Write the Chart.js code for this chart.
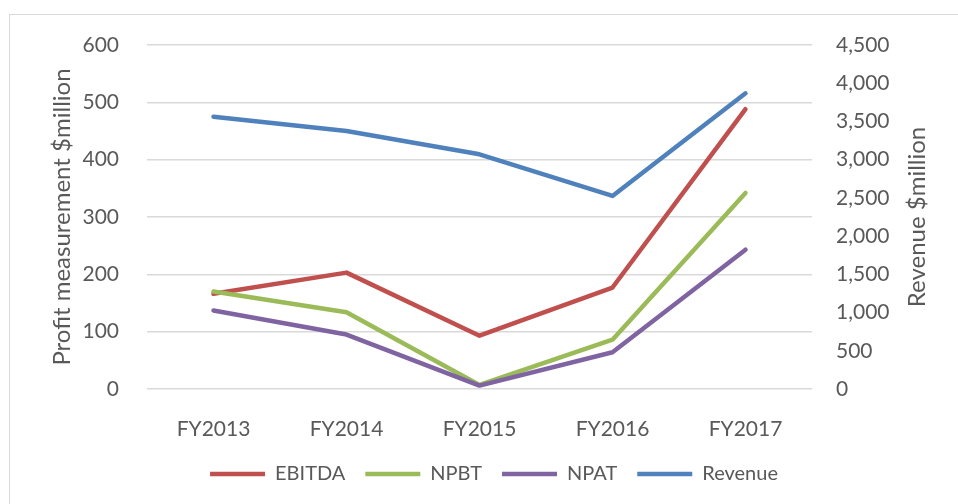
<!DOCTYPE html>
<html>
<head>
<meta charset="utf-8">
<script src="https://cdn.jsdelivr.net/npm/chart.js@4"></script>
<style>
  html, body { margin: 0; padding: 0; background: #fff; overflow: hidden; }
  #wrap { position: relative; width: 958px; height: 504px; }
  #frame { position: absolute; left: 9px; top: 14px; width: 1000px; height: 600px; border: 1.5px solid #d9d9d9; }
  canvas { position: absolute; left: 0; top: 0; }
</style>
</head>
<body>
<div id="wrap">
  <div id="frame"></div>
  <canvas id="myChart" width="958" height="504"></canvas>
</div>
<script>
// categories along the x-axis
var Years = ["FY2013", "FY2014", "FY2015", "FY2016", "FY2017"];
// profit measures, $million (left axis)
var Ebitda = [166, 203, 93, 177, 488];
var Npbt = [170, 134, 7, 86, 342];
var Npat = [137, 95, 6, 64, 243];
// revenue, $million (right axis)
var Revenue = [3560, 3375, 3070, 2525, 3868];

var textColor = "#595959";
var fontName = "Lato";

// right axis title reads bottom-to-top like the left one
var rightTitle = {
  id: "rightTitle",
  afterDraw: function(chart) {
    var ctx = chart.ctx;
    var area = chart.chartArea;
    ctx.save();
    ctx.translate(917, (area.top + area.bottom) / 2);
    ctx.rotate(-Math.PI / 2);
    ctx.font = "24px " + fontName;
    ctx.fillStyle = textColor;
    ctx.textAlign = "center";
    ctx.textBaseline = "middle";
    ctx.fillText("Revenue $million", 0, 0);
    ctx.restore();
  }
};

function line(label, data, color, axis, order) {
  return {
    label: label,
    data: data,
    yAxisID: axis,
    borderColor: color,
    backgroundColor: color,
    borderWidth: 4.5,
    borderCapStyle: "round",
    borderJoinStyle: "round",
    pointRadius: 0,
    pointHoverRadius: 0,
    fill: false,
    tension: 0,
    order: order
  };
}

var ctx = document.getElementById("myChart");
var myChart = new Chart(ctx, {
  type: "line",
  data: {
    labels: Years,
    datasets: [
      line("EBITDA", Ebitda, "#C0504D", "y", 4),
      line("NPBT", Npbt, "#9BBB59", "y", 3),
      line("NPAT", Npat, "#8064A2", "y", 2),
      line("Revenue", Revenue, "#4F81BD", "y2", 1)
    ]
  },
  options: {
    responsive: false,
    animation: false,
    layout: { padding: { left: 30, top: 45, right: 0, bottom: 10 } },
    plugins: {
      tooltip: { enabled: false },
      legend: {
        position: "bottom",
        labels: {
          usePointStyle: true,
          pointStyle: "line",
          pointStyleWidth: 55,
          padding: 20,
          color: textColor,
          font: { family: fontName, size: 20 },
          sort: function(a, b) { return a.datasetIndex - b.datasetIndex; }
        }
      }
    },
    scales: {
      x: {
        offset: true,
        grid: { display: false, offset: true },
        border: { display: false },
        ticks: { color: textColor, padding: 20, font: { family: fontName, size: 21 } },
        afterFit: function(scale) { scale.height = 55; }
      },
      y: {
        position: "left",
        min: 0,
        max: 600,
        grid: { color: "#d9d9d9", lineWidth: 1.5, drawTicks: false },
        border: { display: false },
        ticks: { stepSize: 100, color: textColor, padding: 28, font: { family: fontName, size: 21 } },
        title: {
          display: true,
          text: "Profit measurement $million",
          color: textColor,
          font: { family: fontName, size: 24 },
          padding: { top: 18, bottom: 0 }
        },
        afterFit: function(scale) { scale.width = 117; }
      },
      y2: {
        position: "right",
        min: 0,
        max: 4500,
        grid: { display: false, drawTicks: false },
        border: { display: false },
        ticks: { stepSize: 500, color: textColor, padding: 24, font: { family: fontName, size: 21 } },
        afterFit: function(scale) { scale.width = 146; }
      }
    }
  },
  plugins: [rightTitle]
});
</script>
</body>
</html>
